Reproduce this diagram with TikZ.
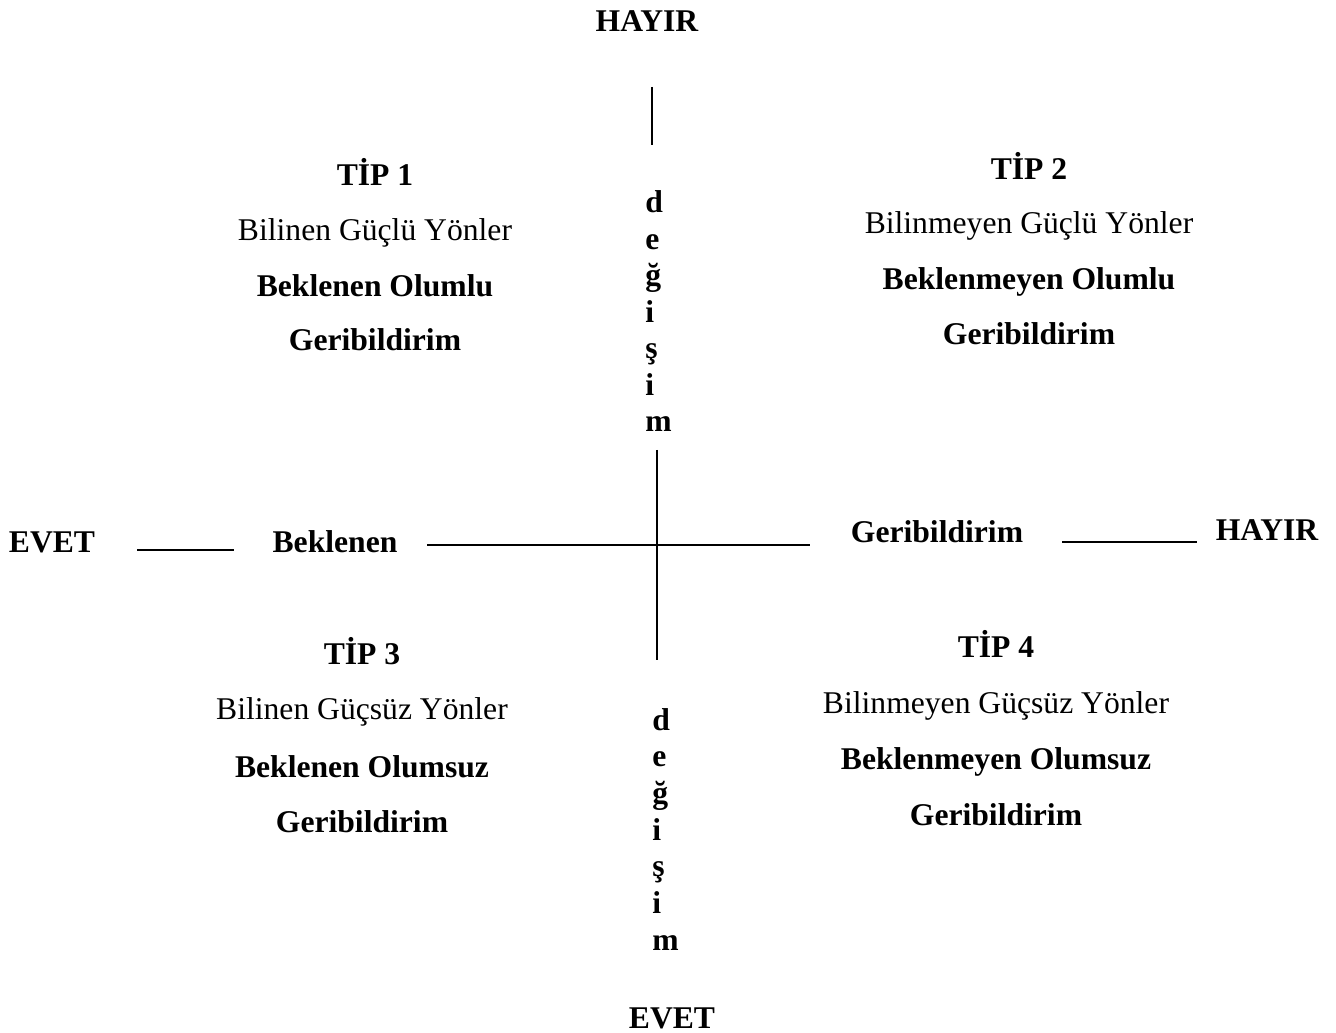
\documentclass[tikz,border=0pt]{standalone}
\usepackage{fontspec}
\setmainfont{Liberation Serif}[BoldFont={Liberation Serif Bold},UprightFont={Liberation Serif}]
\begin{document}
\begin{tikzpicture}[x=0.02cm,y=-0.02cm,
  txt/.style={inner sep=0pt,anchor=base,font=\fontsize{18}{22}\selectfont},
  btxt/.style={txt,font=\fontsize{18}{22}\selectfont\bfseries},
  letter/.style={inner sep=0pt,anchor=base west,font=\fontsize{18}{22}\selectfont\bfseries},
  axis/.style={line width=0.9pt}]
\useasboundingbox (0,0) rectangle (1336,1033);

% axis end labels
\node[btxt] (hayirTop) at (647,32) {HAYIR};
\node[btxt] (evetBottom) at (672,1028) {EVET};
\node[btxt] (evetLeft) at (52,553) {EVET};
\node[btxt] (hayirRight) at (1267,541) {HAYIR};
\node[btxt] (beklenen) at (335,553) {Beklenen};
\node[btxt] (geribildirim) at (937,543) {Geribildirim};

% vertical axis caption, one letter per line
\foreach \ch [count=\i] in {d,e,ğ,i,ş,i,m} {
  \node[letter] (up\i) at (645,{213+36.5*(\i-1)}) {\ch};
  \node[letter] (lo\i) at (652,{730+36.7*(\i-1)}) {\ch};
}

% axis strokes
\coordinate (vTopA) at (652,87);
\coordinate (vTopB) at (652,145);
\coordinate (vMidA) at (657,450);
\coordinate (vMidB) at (657,660);
\coordinate (hA) at (427,545);
\coordinate (hB) at (810,545);
\coordinate (lA) at (137,550);
\coordinate (lB) at (234,550);
\coordinate (rA) at (1062,542);
\coordinate (rB) at (1197,542);
\draw[axis] (vTopA) -- (vTopB);
\draw[axis] (vMidA) -- (vMidB);
\draw[axis] (hA) -- (hB);
\draw[axis] (lA) -- (lB);
\draw[axis] (rA) -- (rB);

% quadrant 1
\node[btxt] (t1a) at (375,186) {TİP 1};
\node[txt]  (t1b) at (375,241) {Bilinen Güçlü Yönler};
\node[btxt] (t1c) at (375,297) {Beklenen Olumlu};
\node[btxt] (t1d) at (375,351) {Geribildirim};

% quadrant 2
\node[btxt] (t2a) at (1029,180) {TİP 2};
\node[txt]  (t2b) at (1029,234) {Bilinmeyen Güçlü Yönler};
\node[btxt] (t2c) at (1029,290) {Beklenmeyen Olumlu};
\node[btxt] (t2d) at (1029,345) {Geribildirim};

% quadrant 3
\node[btxt] (t3a) at (362,664) {TİP 3};
\node[txt]  (t3b) at (362,720) {Bilinen Güçsüz Yönler};
\node[btxt] (t3c) at (362,777) {Beklenen Olumsuz};
\node[btxt] (t3d) at (362,832) {Geribildirim};

% quadrant 4
\node[btxt] (t4a) at (996,658) {TİP 4};
\node[txt]  (t4b) at (996,713) {Bilinmeyen Güçsüz Yönler};
\node[btxt] (t4c) at (996,769) {Beklenmeyen Olumsuz};
\node[btxt] (t4d) at (996,825) {Geribildirim};
\end{tikzpicture}
\end{document}
